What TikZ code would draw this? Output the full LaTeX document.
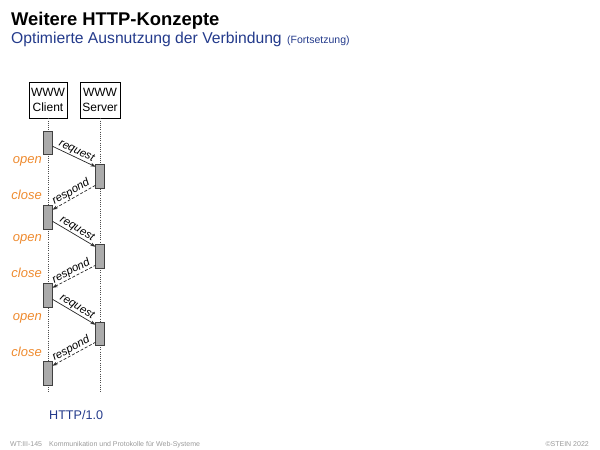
\documentclass[tikz,border=0pt]{standalone}
\usepackage{fontspec}
\setmainfont{Liberation Sans}
\usetikzlibrary{arrows.meta}
\definecolor{titleblue}{HTML}{233A8B}
\definecolor{openorange}{HTML}{EE8A2E}
\definecolor{footgray}{HTML}{9A9A9A}
\definecolor{actfill}{HTML}{ABABAB}
\begin{document}
\begin{tikzpicture}[x=1pt,y=-1pt,
  partbox/.style={draw, line width=0.7pt, inner sep=0pt, minimum height=36pt, align=center,
    font=\fontsize{12}{15.5}\selectfont},
  act/.style={draw=black!75, line width=0.6pt, fill=actfill, minimum width=8.5pt, inner sep=0pt},
  life/.style={draw=black!70, line width=0.8pt, dash pattern=on 1pt off 1.2pt},
  req/.style={draw=black!85, line width=0.7pt, -{Stealth[length=5pt,width=3.6pt]}},
  resp/.style={draw=black!85, line width=0.7pt, dash pattern=on 3pt off 1.8pt, {Stealth[length=5pt,width=3.6pt]}-},
  msg/.style={font=\fontsize{11.3}{12}\selectfont\itshape, inner sep=0.5pt},
  state/.style={font=\fontsize{13}{15}\selectfont\itshape, text=openorange, inner sep=0pt, anchor=base east},
  foot/.style={font=\fontsize{7}{8}\selectfont, text=footgray, inner sep=0pt}
]
\useasboundingbox (0,0) rectangle (600,450);

% heading
\node[anchor=base west, inner sep=0pt, font=\fontsize{18.4}{20}\selectfont\bfseries] (title) at (11,25.5) {Weitere HTTP-Konzepte};
\node[anchor=base west, inner sep=0pt, font=\fontsize{15.7}{18}\selectfont, text=titleblue] (sub) at (11,43.5) {Optimierte Ausnutzung der Verbindung};
\node[anchor=base west, inner sep=0pt, font=\fontsize{10.5}{12}\selectfont, text=titleblue] (fort) at (287,43.5) {(Fortsetzung)};

% participants
\node[partbox, minimum width=38pt] (client) at (48,100) {WWW\\Client};
\node[partbox, minimum width=40pt] (server) at (100,100) {WWW\\Server};
\coordinate (cend) at (48,393);
\coordinate (send) at (100,393);
\draw[life] (client.south) -- (cend);
\draw[life] (server.south) -- (send);

% activations
\node[act, minimum height=23pt] (c1) at (48,142.5) {};
\node[act, minimum height=24pt] (s1) at (100,176) {};
\node[act, minimum height=24pt] (c2) at (48,217) {};
\node[act, minimum height=24pt] (s2) at (100,256) {};
\node[act, minimum height=24pt] (c3) at (48,295) {};
\node[act, minimum height=23pt] (s3) at (100,333.5) {};
\node[act, minimum height=24pt] (c4) at (48,373) {};

% messages
\draw[req] ([yshift=8pt]c1.south east) -- node[msg, sloped, above] {request} ([yshift=-3pt]s1.north west);
\draw[resp] ([yshift=-5pt]c2.north east) -- node[msg, sloped, above] {respond} ([yshift=3pt]s1.south west);
\draw[req] ([yshift=8pt]c2.south east) -- node[msg, sloped, above] {request} ([yshift=-3pt]s2.north west);
\draw[resp] ([yshift=-5pt]c3.north east) -- node[msg, sloped, above] {respond} ([yshift=3pt]s2.south west);
\draw[req] ([yshift=8pt]c3.south east) -- node[msg, sloped, above] {request} ([yshift=-3pt]s3.north west);
\draw[resp] ([yshift=-5pt]c4.north east) -- node[msg, sloped, above] {respond} ([yshift=3pt]s3.south west);

% states
\node[state] (o1) at (42,163) {open};
\node[state] (k1) at (42,199) {close};
\node[state] (o2) at (42,241.5) {open};
\node[state] (k2) at (42,277) {close};
\node[state] (o3) at (42,320) {open};
\node[state] (k3) at (42,356) {close};

% protocol
\node[anchor=base west, inner sep=0pt, font=\fontsize{12.6}{14}\selectfont, text=titleblue] (proto) at (49,419.5) {HTTP/1.0};

% footer
\node[foot, anchor=base west] (f1) at (10,446.5) {WT:III-145};
\node[foot, anchor=base west] (f2) at (49,446.5) {Kommunikation und Protokolle für Web-Systeme};
\node[foot, anchor=base east] (f3) at (589,446.5) {©STEIN 2022};
\end{tikzpicture}
\end{document}
